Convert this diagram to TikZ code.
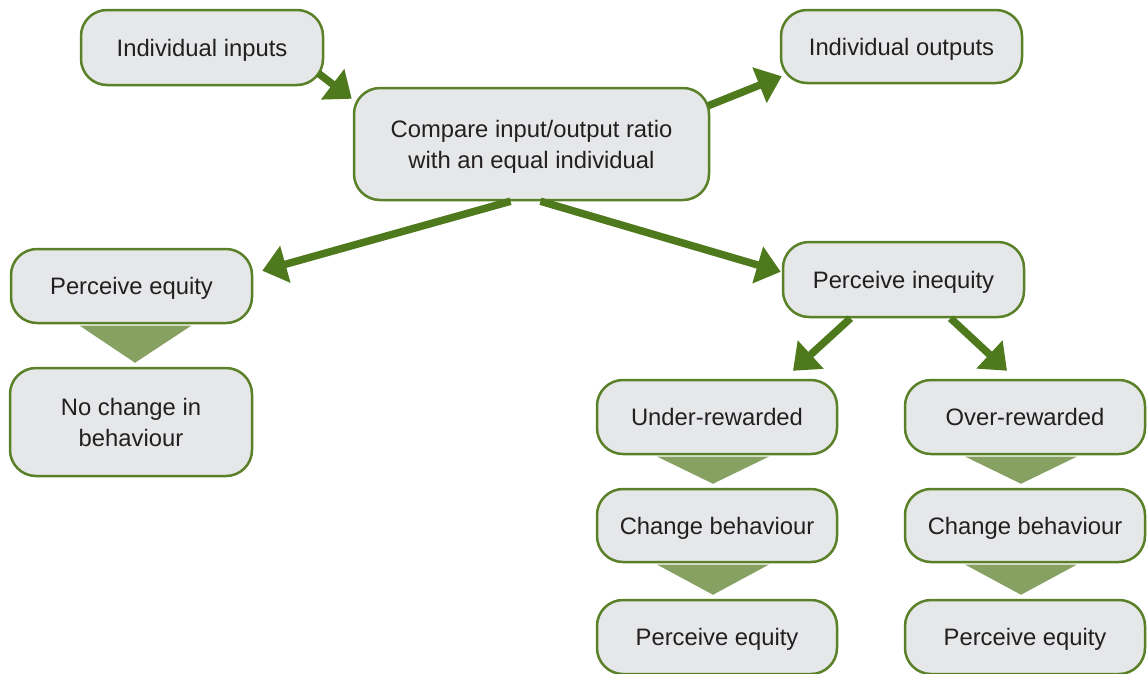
\documentclass[tikz,border=0pt]{standalone}
\usepackage{fontspec}
\setmainfont{Liberation Sans}
\usetikzlibrary{arrows.meta,calc}
\definecolor{boxfill}{HTML}{E6E7E9}
\definecolor{boxline}{HTML}{5A8028}
\definecolor{arrgreen}{HTML}{4E7A1D}
\definecolor{trifill}{HTML}{87A163}
\definecolor{txt}{HTML}{231F20}
\begin{document}
\begin{tikzpicture}[x=1pt,y=-1pt,
  box/.style={draw=boxline, line width=2.5pt, fill=boxfill, rounded corners=26pt,
    text=txt, align=center, inner sep=0pt, text depth=0pt,
    font=\fontsize{23.8}{31}\selectfont},
  arr/.style={draw=arrgreen, line width=7.5pt,
    -{Triangle[length=24pt,width=37pt]}},
  tri/.style={fill=trifill}
]
\useasboundingbox (0,0) rectangle (1147,673);

% boxes
\node[box, minimum width=242pt, minimum height=75pt] (in) at (202,47.5) {Individual inputs};
\node[box, minimum width=241pt, minimum height=73pt] (out) at (901.5,46.5) {Individual outputs};
\node[box, minimum width=355pt, minimum height=112pt] (cmp) at (531.5,144) {Compare input/output ratio\\with an equal individual};
\node[box, minimum width=241pt, minimum height=74pt] (eq) at (131.5,286) {Perceive equity};
\node[box, minimum width=242pt, minimum height=108pt] (nc) at (131,422) {No change in\\behaviour};
\node[box, minimum width=241pt, minimum height=75pt] (ineq) at (903.5,279.5) {Perceive inequity};
\node[box, minimum width=240pt, minimum height=74pt] (ur) at (717,417) {Under-rewarded};
\node[box, minimum width=240pt, minimum height=74pt] (ov) at (1025,417) {Over-rewarded};
\node[box, minimum width=240pt, minimum height=73pt] (cb1) at (717,525.5) {Change behaviour};
\node[box, minimum width=240pt, minimum height=73pt] (cb2) at (1025,525.5) {Change behaviour};
\node[box, minimum width=240pt, minimum height=74pt] (pe1) at (717,637) {Perceive equity};
\node[box, minimum width=240pt, minimum height=74pt] (pe2) at (1025,637) {Perceive equity};

% arrows between boxes
\draw[arr] ($(in.south east)+(-6,-13)$) -- ($(cmp.north west)+(-1,12)$);
\draw[arr] ($(cmp.north east)+(-2,19)$) -- ($(out.south west)+(2,-8)$);
\draw[arr] ($(cmp.south)+(-21,0)$) -- ($(eq.north east)+(9,23)$);
\draw[arr] ($(cmp.south)+(9,0)$) -- ($(ineq.north west)+(-1,31)$);
\draw[arr] ($(ineq.south)+(-53,0)$) -- ($(ur.north)+(76,-8)$);
\draw[arr] ($(ineq.south)+(47,0)$) -- ($(ov.north)+(-18,-8)$);

% wedge connectors
\foreach \a/\b/\dx in {eq/nc/4, ur/cb1/-4, cb1/pe1/-4, ov/cb2/-4, cb2/pe2/-4}{
  \fill[tri] ($(\a.south)+(\dx-56,1.3)$) -- ($(\a.south)+(\dx+56,1.3)$)
    -- ($(\b.north)+(\dx,-4)$) -- cycle;
}
\end{tikzpicture}
\end{document}
